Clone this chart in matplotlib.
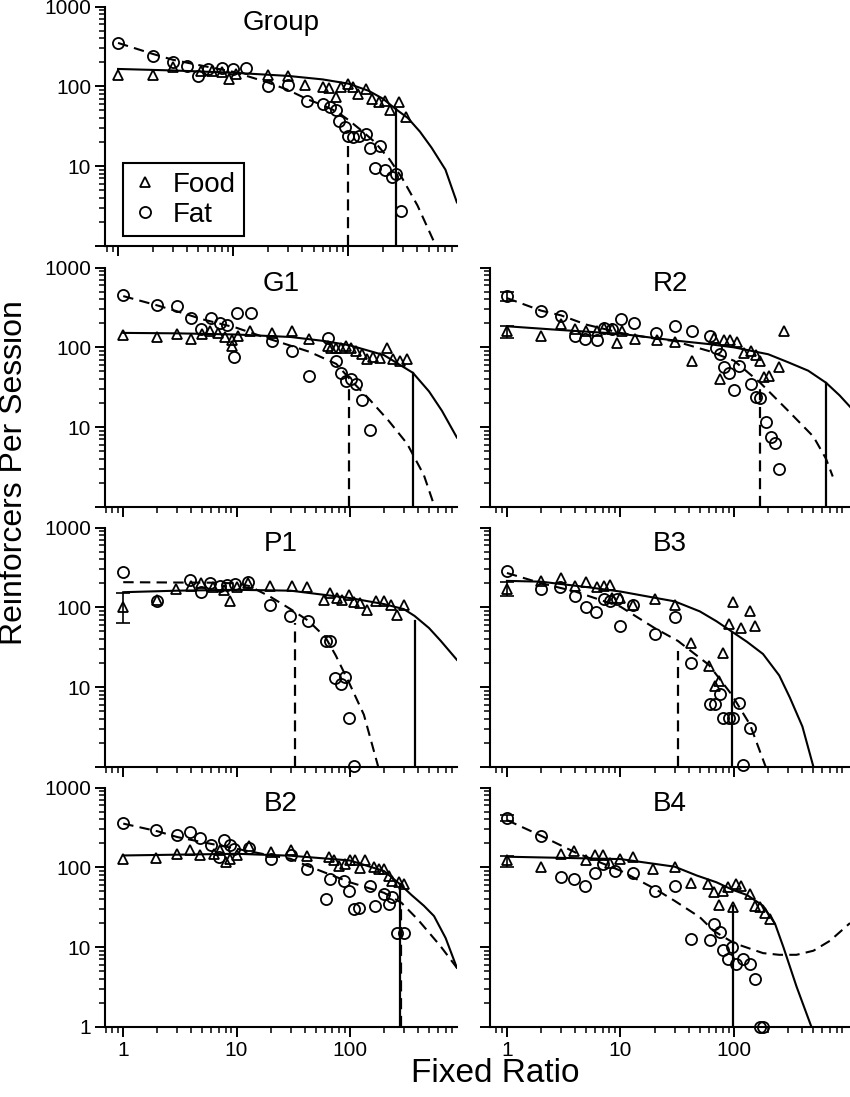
#-*- coding: utf-8 *-*
'''
Demand curves for food and fat reinforcers, log-log panels
(group + six subjects), open symbols = data, lines = fits.
'''
import matplotlib
matplotlib.use("Agg")
import matplotlib.pyplot as plt
from matplotlib.lines import Line2D
from matplotlib.ticker import LogLocator, NullFormatter

plt.rcParams['font.family'] = ['Liberation Sans', 'DejaVu Sans']

#---------------------------------------------
# Group
group_food_x = [1, 2, 3, 5.3, 6.5, 8, 9.2, 10.5, 20, 30, 42, 61, 68, 78, 87, 100, 110, 122, 144, 160, 184, 210, 233, 275, 315]
group_food_y = [138, 138, 173, 157, 157, 150, 123, 143, 138, 136, 104, 99, 96, 73, 97, 107, 97, 81, 93, 70, 63, 66, 50, 63, 41]
group_fat_x = [1, 2, 3, 4, 5, 6, 8, 10, 13, 20, 30, 44, 60, 70, 78, 83, 93, 100, 110, 125, 144, 155, 190, 170, 210, 240, 260, 285]
group_fat_y = [354, 242, 203, 181, 136, 165, 172, 165, 172, 100, 104, 66, 60, 55, 50, 37, 31, 24, 23, 24, 25, 17, 18, 9.4, 8.8, 7.3, 8, 2.7]
group_food_fit_x = [1, 3, 10, 30, 60, 100, 150, 200, 258, 330, 420, 530, 700, 880]
group_food_fit_y = [165, 158, 148, 135, 122, 108, 88, 70, 52, 40, 27, 17, 9, 3.5]
group_fat_fit_x = [1, 2, 3, 5, 10, 20, 30, 44, 60, 80, 100, 130, 170, 230, 295, 400, 545, 600]
group_fat_fit_y = [350, 255, 215, 185, 152, 112, 90, 69, 58, 48, 38, 28, 20, 12, 7, 3.2, 1.2, 0.9]
group_pmax_food = (258, 52)
group_pmax_fat = (100, 22)

# G1
g1_food_x = [1, 2, 3, 4, 5, 5.8, 6.9, 7.9, 9.1, 9.1, 10.4, 13.2, 20.7, 31, 44, 64, 68, 76, 84, 92, 103, 114, 127, 141, 161, 184, 211, 241, 279, 318]
g1_food_y = [143, 135, 148, 129, 148, 160, 152, 135, 122, 104, 138, 162, 152, 160, 129, 104, 99, 99, 99, 104, 99, 90, 82, 71, 76, 74, 99, 71, 68, 71]
g1_fat_x = [1, 2, 3, 4, 4.9, 6, 7.1, 8.2, 9.4, 10.1, 13.3, 20.6, 31, 44, 64, 76, 84, 93, 103, 114, 127, 150]
g1_fat_y = [457, 343, 327, 234, 168, 234, 203, 193, 76, 270, 270, 120, 90, 44, 132, 68, 48, 38, 40, 35, 22, 9.1]
g1_food_fit_x = [1, 3, 10, 30, 60, 100, 200, 360, 500, 650, 880]
g1_food_fit_y = [152, 150, 145, 135, 120, 106, 80, 48, 28, 16, 7.4]
g1_fat_fit_x = [1, 2, 3, 5, 10, 20, 30, 44, 76, 100, 150, 220, 320, 450, 560, 620]
g1_fat_fit_y = [440, 336, 283, 225, 176, 126, 105, 88, 62, 40, 22, 12, 6.2, 2.5, 1.0, 0.7]
g1_pmax_food = (360, 48)
g1_pmax_fat = (98, 32)

# R2
r2_food_x = [1, 2, 3, 4, 5, 6.2, 7.1, 8.4, 9.4, 10.3, 13.5, 21, 30.5, 43, 66, 76, 82, 93, 107, 122, 140, 155, 170, 184, 203, 249, 275]
r2_food_y = [160, 138, 197, 168, 160, 160, 175, 168, 114, 160, 129, 125, 118, 68, 130, 40, 122, 125, 117, 86, 90, 81, 68, 43, 44, 56, 160]
r2_fat_x = [1, 2, 3, 4, 4.9, 6.2, 7.1, 8.4, 10.1, 13.1, 20.4, 30.5, 43, 62, 69, 76, 82, 90, 100, 110, 140, 155, 170, 190, 210, 230, 250]
r2_fat_y = [435, 289, 246, 138, 126, 122, 176, 168, 224, 203, 152, 184, 160, 138, 99, 82, 56, 48, 29, 58, 35, 24, 23, 11.5, 7.5, 6.3, 3.0]
r2_food_fit_x = [1, 3, 10, 30, 60, 100, 200, 300, 450, 646, 850, 1050]
r2_food_fit_y = [184, 165, 148, 122, 110, 100, 82, 65, 51, 36, 25, 18]
r2_fat_fit_x = [1, 2, 3, 5, 10, 20, 30, 60, 100, 170, 300, 500, 646, 740]
r2_fat_fit_y = [415, 289, 252, 193, 152, 129, 120, 90, 68, 36, 16, 7.6, 4.0, 2.4]
r2_pmax_food = (646, 36)
r2_pmax_fat = (170, 36)
r2_food_err = (160, 132, 184)   # value at FR1, low, high
r2_fat_err = (435, 378, 500)

# P1
p1_food_x = [1, 2, 2.9, 4, 4.9, 6.2, 7.7, 8.8, 10.1, 12.7, 19.8, 30.8, 41.7, 58.7, 67, 77, 85, 98, 108, 123, 142, 170, 200, 229, 263, 300]
p1_food_y = [100, 125, 171, 183, 202, 178, 166, 121, 178, 202, 183, 183, 178, 125, 151, 131, 125, 144, 116, 113, 94, 119, 119, 108, 81, 108]
p1_fat_x = [1, 2, 3.9, 4.9, 5.8, 7.1, 8.2, 9.7, 12.7, 19.8, 29.8, 43, 61, 67, 74, 83, 91, 98, 108]
p1_fat_y = [274, 119, 222, 158, 202, 183, 192, 196, 211, 106, 77, 67, 38, 38, 13, 10.8, 13.3, 4.05, 1.03]
p1_food_fit_x = [1, 3, 10, 30, 100, 200, 300, 373, 500, 634, 880]
p1_food_fit_y = [155, 162, 166, 162, 131, 110, 95, 78, 55, 38, 22]
p1_fat_fit_x = [1, 3, 6, 10, 13, 20, 30, 43, 61, 75, 98, 133, 178, 200]
p1_fat_fit_y = [207, 205, 204, 200, 185, 135, 95, 68, 42, 25, 11.5, 4.5, 1.0, 0.6]
p1_pmax_food = (373, 68)
p1_pmax_fat = (33, 63)
p1_food_err = (100, 64, 151)

# B3
b3_food_x = [1, 2, 3, 4, 5, 6.2, 7.1, 8.1, 8.4, 10, 13, 20, 30, 42, 60, 68, 73, 80, 90, 98, 116, 138, 153]
b3_food_y = [171, 215, 233, 183, 207, 178, 183, 192, 131, 131, 108, 128, 106, 36, 18.3, 10.3, 11.9, 27, 61, 117, 55, 89, 58]
b3_fat_x = [1, 2, 2.95, 4, 5, 6.1, 7.1, 8.1, 9.3, 10, 13, 20, 30, 42, 61, 68, 76, 80, 90, 98, 110, 120, 138]
b3_fat_y = [287, 171, 178, 137, 100, 87, 128, 121, 128, 58, 106, 46, 75, 20, 6.2, 6.2, 8.3, 4.1, 4.1, 4.1, 6.3, 1.05, 3.1]
b3_food_fit_x = [1, 2, 5, 10, 20, 30, 50, 70, 95, 130, 180, 250, 310, 400, 500, 560]
b3_food_fit_y = [215, 210, 180, 158, 132, 119, 89, 67, 50, 37, 26, 14, 7.4, 3.2, 1.0, 0.6]
b3_fat_fit_x = [1, 2, 4, 10, 20, 32, 60, 95, 138, 190, 210]
b3_fat_fit_y = [270, 201, 158, 102, 55, 38, 19, 8.1, 3.4, 1.0, 0.7]
b3_pmax_food = (95, 48)
b3_pmax_fat = (32, 28)
b3_food_err = (171, 137, 211)

# B2
b2_food_x = [1, 1.93, 3, 3.9, 4.8, 6.3, 7.2, 8, 8.8, 10.1, 12.8, 20, 30, 42, 65, 72, 80, 91, 101, 112, 124, 137, 163, 180, 200, 220, 235, 270, 300]
b2_food_y = [128, 130, 148, 163, 141, 148, 163, 116, 128, 141, 185, 158, 163, 138, 134, 122, 105, 111, 122, 122, 98, 122, 100, 96, 96, 79, 68, 65, 62]
b2_fat_x = [1, 1.93, 3, 3.9, 4.8, 5.9, 7, 7.7, 8.8, 9.5, 12.8, 20, 30, 42, 61, 67, 88, 98, 108, 120, 152, 168, 200, 220, 235, 260, 300]
b2_fat_y = [365, 292, 253, 278, 233, 192, 134, 218, 192, 171, 174, 128, 141, 96, 40, 72, 68, 51, 30, 31, 59, 33, 46, 35, 42, 15, 15]
b2_food_fit_x = [1, 10, 30, 100, 200, 275, 350, 450, 553, 700, 880]
b2_food_fit_y = [141, 148, 140, 122, 90, 62, 45, 33, 24.5, 13, 5.5]
b2_fat_fit_x = [1, 2, 3, 5, 10, 20, 30, 42, 100, 200, 285, 400, 630, 880]
b2_fat_fit_y = [354, 284, 240, 207, 171, 141, 128, 105, 65, 48, 36, 22, 10.3, 5.5]
b2_pmax_food = (275, 62)
b2_pmax_fat = (285, 36)

# B4
b4_food_x = [1, 2, 3, 3.9, 5, 6, 7, 8.1, 9.9, 13, 19.5, 30, 42, 59, 66, 73, 80, 89, 98, 105, 116, 138, 153, 170, 187, 207]
b4_food_y = [124, 100, 147, 162, 124, 144, 144, 115, 127, 133, 95, 100, 63, 61, 49, 34, 50, 56, 32, 61, 59, 46, 33, 32, 27, 22.6]
b4_fat_x = [1, 2, 3, 3.9, 4.9, 6, 7, 9, 13, 20, 30, 42, 61, 66, 75, 80, 88, 95, 105, 120, 138, 153, 170, 180]
b4_fat_y = [414, 249, 75, 72, 59, 84, 110, 91, 84, 50, 59, 12.7, 12.1, 19.5, 15.4, 9.1, 7.0, 10, 6.2, 7, 6.2, 4.0, 1, 1]
b4_food_fit_x = [1, 10, 30, 47, 70, 98, 130, 180, 230, 272, 355, 480, 540]
b4_food_fit_y = [136, 127, 102, 79, 65, 52, 45, 33, 19.5, 10, 3.2, 1.0, 0.6]
b4_fat_fit_x = [1, 2, 4, 10, 20, 30, 50, 66, 100, 180, 250, 355, 500, 700, 1050]
b4_fat_fit_y = [392, 249, 154, 91, 54, 38, 23.7, 16, 11.2, 8.4, 8.0, 8.0, 9.0, 12, 20]
b4_pmax_food = (98, 33)
b4_food_err = (124, 102, 140)
b4_fat_err = (414, 380, 450)

#---------------------------------------------
def errbar(ax, e):
    ax.errorbar([1], [e[0]], yerr=[[e[0] - e[1]], [e[2] - e[0]]], fmt='none',
                ecolor='k', elinewidth=1.2, capsize=5, capthick=1.2, zorder=4)

def panel(ax, title, food_x, food_y, fat_x, fat_y, food_fx, food_fy, fat_fx, fat_fy,
          pmax_food, pmax_fat, xlim, errs=()):
    ax.set_xscale('log')
    ax.set_yscale('log')
    # fitted demand curves
    ax.plot(food_fx, food_fy, '-', color='k', lw=1.5, zorder=2)
    ax.plot(fat_fx, fat_fy, color='k', lw=1.5, ls=(0, (5, 3)), zorder=2)
    # Pmax lines
    if pmax_food is not None:
        ax.plot([pmax_food[0], pmax_food[0]], [1, pmax_food[1]], '-', color='k', lw=1.6)
    if pmax_fat is not None:
        ax.plot([pmax_fat[0], pmax_fat[0]], [1, pmax_fat[1]], color='k', lw=1.6, ls=(0, (5, 3)))
    for e in errs:
        errbar(ax, e)
    ax.plot(food_x, food_y, '^', ms=7.5, mfc='none', mec='k', mew=1.3, clip_on=False, zorder=5)
    ax.plot(fat_x, fat_y, 'o', ms=8, mfc='none', mec='k', mew=1.3, clip_on=False, zorder=5)

    ax.set_xlim(xlim)
    ax.set_ylim(1, 1000)
    for s in ['top', 'right']:
        ax.spines[s].set_visible(False)
    for s in ['left', 'bottom']:
        ax.spines[s].set_linewidth(1.5)
    ax.set_xticks([1, 10, 100])
    ax.set_xticklabels(['1', '10', '100'])
    ax.set_yticks([1, 10, 100, 1000])
    ax.xaxis.set_minor_locator(LogLocator(base=10, subs=range(2, 10), numticks=20))
    ax.yaxis.set_minor_locator(LogLocator(base=10, subs=range(2, 10), numticks=20))
    ax.xaxis.set_minor_formatter(NullFormatter())
    ax.yaxis.set_minor_formatter(NullFormatter())
    ax.tick_params(which='major', direction='out', length=7, width=1.4, labelsize=15, pad=3)
    ax.tick_params(which='minor', direction='out', length=4, width=1.1)
    ax.text(0.5, 0.93, title, transform=ax.transAxes, ha='center', va='center', fontsize=20)

#---------------------------------------------
if __name__ == '__main__':
    fig = plt.figure(figsize=(8.5, 10.97), dpi=100)

    left_x, left_w = 0.1235, 0.414
    right_x, right_w = 0.5765, 0.4235
    bottoms = [0.776, 0.538, 0.301, 0.064]
    h = 0.218
    xl_left = (0.69, 880)
    xl_right = (0.71, 1050)

    ax = fig.add_axes([left_x, bottoms[0], left_w, h])
    panel(ax, 'Group', group_food_x, group_food_y, group_fat_x, group_fat_y,
          group_food_fit_x, group_food_fit_y, group_fat_fit_x, group_fat_fit_y,
          group_pmax_food, group_pmax_fat, (0.77, 880))
    ax.set_yticklabels(['', '10', '100', '1000'])
    ax.tick_params(labelbottom=False)
    handles = [Line2D([], [], ls='none', marker='^', ms=7.5, mfc='none', mec='k', mew=1.3),
               Line2D([], [], ls='none', marker='o', ms=8, mfc='none', mec='k', mew=1.3)]
    leg = ax.legend(handles, ['Food', 'Fat'], loc='lower left', bbox_to_anchor=(0.05, 0.04),
                    fontsize=20, frameon=True, fancybox=False, edgecolor='k',
                    framealpha=1, handlelength=1.0, handletextpad=0.5,
                    borderpad=0.3, labelspacing=0.15, borderaxespad=0)
    leg.get_frame().set_linewidth(1.5)

    ax = fig.add_axes([left_x, bottoms[1], left_w, h])
    panel(ax, 'G1', g1_food_x, g1_food_y, g1_fat_x, g1_fat_y,
          g1_food_fit_x, g1_food_fit_y, g1_fat_fit_x, g1_fat_fit_y,
          g1_pmax_food, g1_pmax_fat, xl_left)
    ax.set_yticklabels(['', '10', '100', '1000'])
    ax.tick_params(labelbottom=False)

    ax = fig.add_axes([right_x, bottoms[1], right_w, h])
    panel(ax, 'R2', r2_food_x, r2_food_y, r2_fat_x, r2_fat_y,
          r2_food_fit_x, r2_food_fit_y, r2_fat_fit_x, r2_fat_fit_y,
          r2_pmax_food, r2_pmax_fat, xl_right, errs=(r2_food_err, r2_fat_err))
    ax.tick_params(labelbottom=False, labelleft=False)

    ax = fig.add_axes([left_x, bottoms[2], left_w, h])
    panel(ax, 'P1', p1_food_x, p1_food_y, p1_fat_x, p1_fat_y,
          p1_food_fit_x, p1_food_fit_y, p1_fat_fit_x, p1_fat_fit_y,
          p1_pmax_food, p1_pmax_fat, xl_left, errs=(p1_food_err,))
    ax.set_yticklabels(['', '10', '100', '1000'])
    ax.tick_params(labelbottom=False)

    ax = fig.add_axes([right_x, bottoms[2], right_w, h])
    panel(ax, 'B3', b3_food_x, b3_food_y, b3_fat_x, b3_fat_y,
          b3_food_fit_x, b3_food_fit_y, b3_fat_fit_x, b3_fat_fit_y,
          b3_pmax_food, b3_pmax_fat, xl_right, errs=(b3_food_err,))
    ax.tick_params(labelbottom=False, labelleft=False)

    ax = fig.add_axes([left_x, bottoms[3], left_w, h])
    panel(ax, 'B2', b2_food_x, b2_food_y, b2_fat_x, b2_fat_y,
          b2_food_fit_x, b2_food_fit_y, b2_fat_fit_x, b2_fat_fit_y,
          b2_pmax_food, b2_pmax_fat, xl_left)
    ax.set_yticklabels(['1', '10', '100', '1000'])

    ax = fig.add_axes([right_x, bottoms[3], right_w, h])
    panel(ax, 'B4', b4_food_x, b4_food_y, b4_fat_x, b4_fat_y,
          b4_food_fit_x, b4_food_fit_y, b4_fat_fit_x, b4_fat_fit_y,
          b4_pmax_food, None, xl_right, errs=(b4_food_err, b4_fat_err))
    ax.tick_params(labelleft=False)

    fig.text(0.017, 0.569, 'Reinforcers Per Session', rotation=90, ha='center', va='center', fontsize=23)
    fig.text(0.583, 0.021, 'Fixed Ratio', ha='center', va='center', fontsize=24)

    fig.savefig('out.png', dpi=100)
